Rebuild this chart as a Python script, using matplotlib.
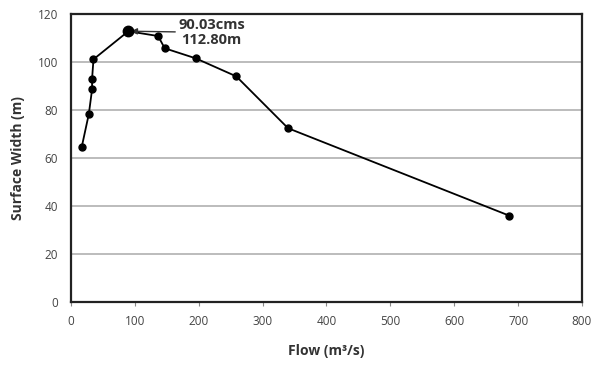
import numpy as np
import matplotlib
matplotlib.use('Agg')
from matplotlib import pyplot as plt

# data
flow = [17.2, 28.2, 33.3, 33.3, 35.5, 90.03, 136.6, 147.0, 195.6, 259.0, 340.0, 686.0]
width = [64.7, 78.3, 88.6, 93.0, 101.1, 112.8, 110.8, 105.7, 101.5, 94.0, 72.4, 36.0]
peak_flow = 90.03
peak_width = 112.80
x_ticks = [0, 100, 200, 300, 400, 500, 600, 700, 800]
y_ticks = [0, 20, 40, 60, 80, 100, 120]

plt.rcParams['font.family'] = ['Open Sans', 'DejaVu Sans']

fig = plt.figure(figsize=(6.0, 3.67), dpi=100)
ax = fig.add_axes([0.118, 0.177, 0.852, 0.785])

ax.plot(flow, width, color='black', lw=1.3, marker='o', ms=5, zorder=3)
ax.plot([peak_flow], [peak_width], 'o', color='black', ms=7.5, zorder=4)

ax.annotate('%.2fcms\n%.2fm' % (peak_flow, peak_width),
            xy=(peak_flow + 4, peak_width), xytext=(220, 112.3),
            ha='center', va='center', fontsize=10.5, fontweight='bold',
            color='#333333', linespacing=1.05,
            arrowprops=dict(arrowstyle='-|>', color='#333333', lw=1,
                            shrinkA=34, shrinkB=0, mutation_scale=9))

ax.set_xlim(0, 800)
ax.set_ylim(0, 120)
ax.set_xticks(x_ticks)
ax.set_yticks(y_ticks)
ax.grid(axis='y', color='#b0b0b0', lw=1.2)
ax.set_axisbelow(True)
for sp in ax.spines.values():
    sp.set_linewidth(1.6)
    sp.set_color('#222222')
ax.tick_params(axis='both', labelsize=8.5, labelcolor='#444444', color='#888888',
               length=3, width=0.8, pad=6)
ax.tick_params(axis='y', length=0, pad=9)

ax.set_xlabel('Flow (m³/s)', fontsize=10, fontweight='bold', color='#333333', labelpad=12)
ax.set_ylabel('Surface Width (m)', fontsize=10, fontweight='bold', color='#333333', labelpad=9)

fig.savefig('out.png', dpi=100)
